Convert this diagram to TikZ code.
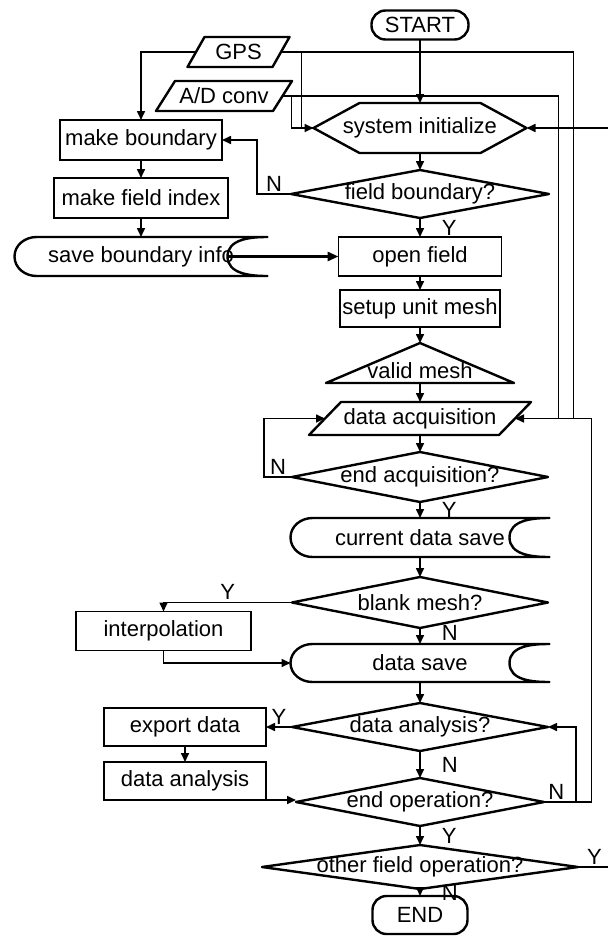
\documentclass[tikz,border=0pt]{standalone}
\usepackage{fontspec}
\setmainfont{Liberation Sans}
\usetikzlibrary{positioning, arrows.meta}
\tikzstyle{base} = [font=\fontsize{22pt}{26pt}\selectfont, text centered, inner sep=0pt, outer sep=0pt]
\tikzstyle{box} = [base, rectangle, draw=black, line width=1.4pt]
\tikzstyle{term} = [base, rectangle, draw=black, line width=2.4pt, rounded corners=14pt]
\tikzstyle{cond} = [base, rectangle]
\tikzstyle{io} = [base, rectangle]
\tikzstyle{store} = [base, rectangle]
\tikzstyle{hexa} = [base, rectangle]
\tikzstyle{tri} = [base, rectangle, text height=30pt, text depth=0pt]
\tikzstyle{outline} = [line width=2.4pt, line join=round]
\tikzstyle{line} = [line width=1.6pt]
\tikzstyle{arrow} = [line, -{Triangle[length=9pt, width=8pt]}]
\tikzstyle{bigarrow} = [line width=3pt, -{Triangle[length=11pt, width=9pt]}]
\tikzstyle{yn} = [font=\fontsize{22pt}{26pt}\selectfont, inner sep=2pt]
\tikzstyle{side} = [yn, anchor=west, xshift=19pt]
\NewDocumentCommand\Decision{m m m}{%
    \node (#1) [cond, #2] {#3};
    \draw[outline] (#1.west) -- (#1.north) -- (#1.east) -- (#1.south) -- cycle;
}
\NewDocumentCommand\InOut{m O{16pt} m m}{%
    \node (#1) [io, #3] {#4};
    \draw[outline] ([xshift=#2]#1.north west) -- ([xshift=#2]#1.north east)
        -- ([xshift=-#2]#1.south east) -- ([xshift=-#2]#1.south west) -- cycle;
}
\NewDocumentCommand\Storage{m m m}{%
    \node (#1) [store, #2] {#3};
    \draw[outline] (#1.north east) to[out=180, in=90] ([xshift=-40pt]#1.east)
        to[out=-90, in=180] (#1.south east) -- ([xshift=22pt]#1.south west)
        to[out=180, in=-90] (#1.west) to[out=90, in=180] ([xshift=22pt]#1.north west) -- cycle;
}
\begin{document}
\begin{tikzpicture}[x=1pt, y=1pt]
\useasboundingbox (0,0) rectangle (608,-938);

% main column
\node (START) [term, minimum width=97pt, minimum height=29pt] at (420,-25) {START};
\node (INIT) [hexa, below=63.5pt of START, minimum width=213pt, minimum height=50pt] {system initialize};
\draw[outline] (INIT.west) -- ([xshift=46pt]INIT.north west) -- ([xshift=-46pt]INIT.north east)
    -- (INIT.east) -- ([xshift=-46pt]INIT.south east) -- ([xshift=46pt]INIT.south west) -- cycle;
\Decision{FIELD}{below=17pt of INIT, minimum width=258pt, minimum height=48pt}{field boundary?}
\node (OPEN) [box, below=19pt of FIELD, minimum width=163pt, minimum height=39pt] {open field};
\node (SETUP) [box, below=14pt of OPEN, minimum width=160pt, minimum height=37pt] {setup unit mesh};
\node (MESH) [tri, below=16pt of SETUP, minimum width=188pt, minimum height=40pt] {valid mesh};
\draw[outline] (MESH.south west) -- (MESH.north) -- (MESH.south east) -- cycle;
\InOut{ACQ}[16pt]{below=19pt of MESH, minimum width=190pt, minimum height=33pt}{data acquisition}
\Decision{ENDACQ}{below=17pt of ACQ, minimum width=256pt, minimum height=50pt}{end acquisition?}
\Storage{CURSAVE}{below=16pt of ENDACQ, minimum width=259pt, minimum height=39pt}{current data save}
\Decision{BLANK}{below=20pt of CURSAVE, minimum width=256pt, minimum height=51pt}{blank mesh?}
\Storage{DSAVE}{below=16pt of BLANK, minimum width=259pt, minimum height=38pt}{data save}
\Decision{ANALQ}{below=21pt of DSAVE, minimum width=256pt, minimum height=48pt}{data analysis?}
\Decision{ENDOP}{below=27pt of ANALQ, minimum width=248pt, minimum height=48pt}{end operation?}
\Decision{OTHER}{below=19pt of ENDOP, minimum width=316pt, minimum height=44pt}{other field operation?}
\node (END) [term, below=7pt of OTHER, minimum width=95pt, minimum height=38pt] {END};

% left side
\Storage{SAVEB}{left=71pt of OPEN, minimum width=253pt, minimum height=39pt}{save boundary info}
\node (INDEX) [box, above=19pt of SAVEB, minimum width=174pt, minimum height=40pt] {make field index};
\node (MAKEB) [box, above=18pt of INDEX, minimum width=162pt, minimum height=40pt] {make boundary};
\InOut{AD}[9.5pt]{above=9pt of MAKEB, xshift=83pt, minimum width=117pt, minimum height=30pt}{A/D conv}
\InOut{GPS}[8.5pt]{above=14pt of AD, xshift=14.5pt, minimum width=85pt, minimum height=30pt}{GPS}
\node (INTERP) [box, left=41pt of BLANK, yshift=-28.5pt, minimum width=175pt, minimum height=39pt] {interpolation};
\node (EXPORT) [box, left=26pt of ANALQ, minimum width=162pt, minimum height=38pt] {export data};
\node (ANAL) [box, below=16pt of EXPORT, minimum width=162pt, minimum height=38pt] {data analysis};

% bends of the long lines
\coordinate[right=20.5pt of GPS] (JG);
\coordinate[right=9pt of AD] (JA);
\coordinate[right=81pt of INIT] (FROMRIGHT);
\coordinate[right=76.5pt of ACQ] (RET);
\coordinate[left=18pt of RET] (BUSG);
\coordinate[left=33pt of RET] (BUSA);
\coordinate[right=28pt of ANALQ] (RET2);
\coordinate[right=30pt of OTHER] (TORIGHT);

% Arrows
\draw[arrow] (GPS.west) -| (MAKEB.north);
\draw[line] (GPS.east) -| (BUSG);
\draw[line] (AD.east) -| (BUSA);
\draw[arrow] (JG) |- (INIT.west);
\draw[line] (JA) |- (INIT.west);
\draw[arrow] (START.south) -- (INIT.north);
\draw[arrow] (FROMRIGHT) -- (INIT.east);

\draw[arrow] (INIT.south) -- (FIELD.north);
\draw[arrow] (FIELD.west) -- node[yn, above] {N} ++(-34,0) |- (MAKEB.east);
\draw[arrow] (MAKEB.south) -- (INDEX.north);
\draw[arrow] (INDEX.south) -- (SAVEB.north);
\draw[bigarrow] ([xshift=-40pt]SAVEB.east) -- (OPEN.west);
\draw[arrow] (FIELD.south) -- node[side] {Y} (OPEN.north);
\draw[arrow] (OPEN.south) -- (SETUP.north);
\draw[arrow] (SETUP.south) -- (MESH.north);
\draw[arrow] (MESH.south) -- (ACQ.north);
\draw[arrow] (ACQ.south) -- (ENDACQ.north);
\draw[arrow] (ENDACQ.west) -- node[yn, above] {N} ++(-28,0) |- (ACQ.west);
\draw[arrow] (ENDACQ.south) -- node[side] {Y} (CURSAVE.north);
\draw[arrow] (CURSAVE.south) -- (BLANK.north);

\draw[arrow] (BLANK.west) -| node[yn, above, pos=0.25] {Y} (INTERP.north);
\draw[arrow] (INTERP.south) |- (DSAVE.west);
\draw[arrow] (BLANK.south) -- node[side, pos=0.3] {N} (DSAVE.north);
\draw[arrow] (DSAVE.south) -- (ANALQ.north);

\draw[arrow] (ANALQ.west) -- node[yn, above] {Y} (EXPORT.east);
\draw[arrow] (EXPORT.south) -- (ANAL.north);
\draw[arrow] (ANAL.south) -- (ANAL.south -| ENDOP.west);
\draw[arrow] (ANALQ.south) -- node[side] {N} (ENDOP.north);
\draw[arrow] (ENDOP.east) -| node[yn, above, pos=0.13] {N} (RET) -- (ACQ.east);
\draw[arrow] (ENDOP.east) -| (RET2) -- (ANALQ.east);
\draw[arrow] (ENDOP.south) -- node[side] {Y} (OTHER.north);
\draw[line] (OTHER.east) -- node[yn, above, pos=0.55] {Y} (TORIGHT);
\draw[arrow] (OTHER.south) -- node[side] {N} (END.north);

\end{tikzpicture}
\end{document}
